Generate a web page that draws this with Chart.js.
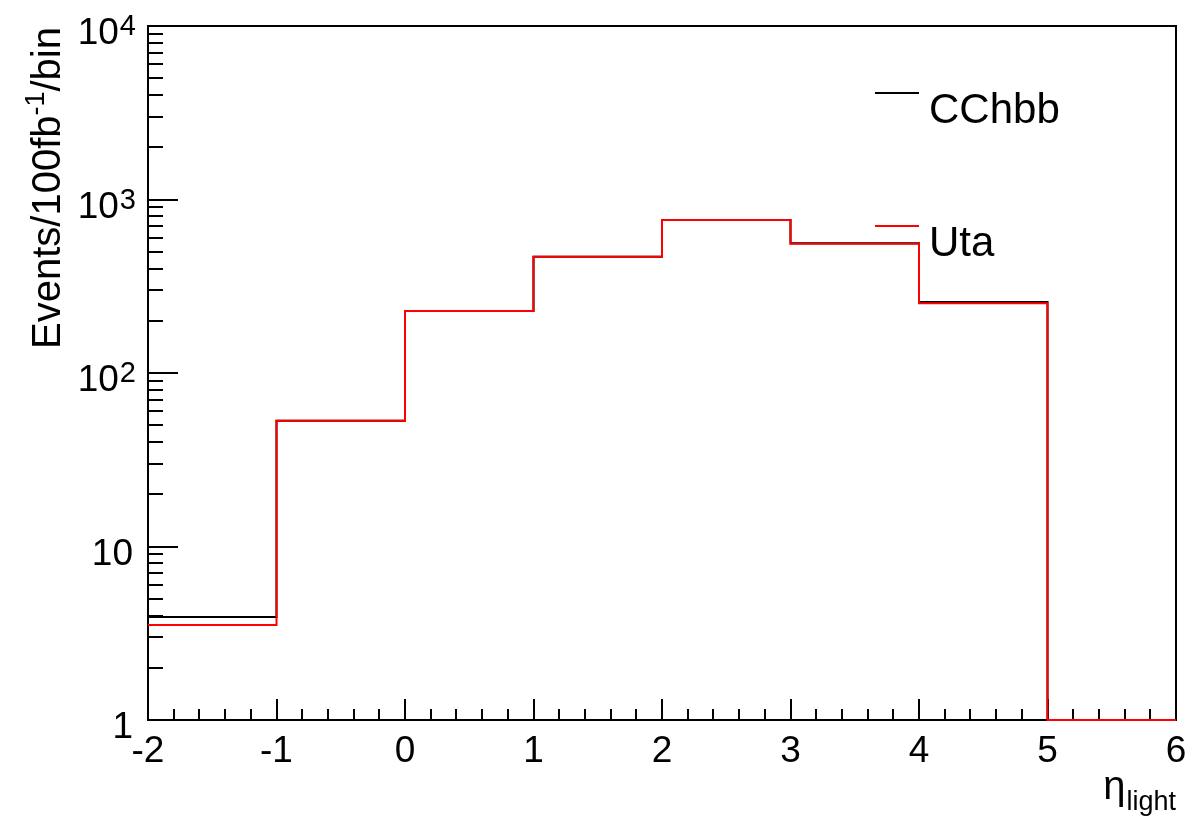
<!DOCTYPE html>
<html>
<head>
<meta charset="utf-8">
<script src="https://cdn.jsdelivr.net/npm/chart.js@4.4.1/dist/chart.umd.min.js"></script>
<style>
  body { margin: 0; background: #fff; }
  canvas { display: block; }
</style>
</head>
<body>
<canvas id="histChart" width="1192" height="823"></canvas>
<script>
// bin edges in eta_light, and events per bin for each sample
const binEdges = [-2, -1, 0, 1, 2, 3, 4, 5, 6];
const cchbbValues = [3.92, 53.1, 228, 468, 762, 560, 257, 0];
const utaValues = [3.53, 53.1, 228, 468, 762, 556, 252, 0];

const seriesNames = ['CChbb', 'Uta'];
const seriesColors = ['#000000', '#ff0000'];

const xTickValues = [-2, -1, 0, 1, 2, 3, 4, 5, 6];
const yTickValues = [1, 10, 100, 1000, 10000];
const yTickBase = ['1', '10', '10', '10', '10'];
const yTickExp = ['', '', '2', '3', '4'];

const yMin = 1, yMax = 10000;
const FONT = '"Liberation Sans", Arial, Helvetica, sans-serif';

// step outline: one point per bin low edge, plus the last upper edge
function toSteps(values) {
  const pts = values.map((v, i) => ({ x: binEdges[i], y: Math.max(v, yMin) }));
  pts.push({ x: binEdges[binEdges.length - 1], y: Math.max(values[values.length - 1], yMin) });
  return pts;
}

// ROOT-like frame with inward ticks
const frameAxes = {
  id: 'frameAxes',
  beforeDatasetsDraw(chart) {
    const { ctx, chartArea: a, scales } = chart;
    const xs = scales.x, ys = scales.y;
    ctx.save();
    ctx.strokeStyle = '#000';
    ctx.lineWidth = 2;
    ctx.strokeRect(a.left, a.top, a.right - a.left, a.bottom - a.top);

    ctx.beginPath();
    // x ticks: major every 1, minor every 0.2
    for (let i = 0; i <= 40; i++) {
      const v = xs.min + i * 0.2;
      const px = Math.round(xs.getPixelForValue(v));
      const len = (i % 5 === 0) ? 21 : 11;
      ctx.moveTo(px, a.bottom);
      ctx.lineTo(px, a.bottom - len);
    }
    // y ticks: decades + 2..9 minors
    for (let d = 0; d < 4; d++) {
      for (let k = 1; k <= 9; k++) {
        const v = k * Math.pow(10, d);
        const py = Math.round(ys.getPixelForValue(v));
        const len = k === 1 ? 30 : 15;
        ctx.moveTo(a.left, py);
        ctx.lineTo(a.left + len, py);
      }
    }
    ctx.lineWidth = 2;
    ctx.stroke();
    ctx.restore();
  },
  afterDraw(chart) {
    const { ctx, chartArea: a, scales } = chart;
    const xs = scales.x, ys = scales.y;
    ctx.save();
    ctx.fillStyle = '#000';

    // x tick labels
    ctx.font = '37px ' + FONT;
    ctx.textAlign = 'center';
    ctx.textBaseline = 'alphabetic';
    xTickValues.forEach(v => {
      ctx.fillText(String(v), xs.getPixelForValue(v), a.bottom + 42);
    });

    // y tick labels with superscripts
    ctx.textAlign = 'left';
    yTickValues.forEach((v, i) => {
      const py = ys.getPixelForValue(v);
      ctx.font = '37px ' + FONT;
      const wb = ctx.measureText(yTickBase[i]).width;
      ctx.font = '29px ' + FONT;
      const we = yTickExp[i] ? ctx.measureText(yTickExp[i]).width : 0;
      const right = yTickExp[i] ? 135 : 133;
      const x0 = right - wb - we;
      ctx.font = '37px ' + FONT;
      ctx.fillText(yTickBase[i], x0, py + 18);
      if (yTickExp[i]) {
        ctx.font = '29px ' + FONT;
        ctx.fillText(yTickExp[i], x0 + wb + 1, py + 9);
      }
    });

    // y axis title, rotated, aligned to top of axis
    ctx.save();
    ctx.translate(60, a.top + 1);
    ctx.rotate(-Math.PI / 2);
    const p1 = 'Events/100fb', sup = '-1', p2 = '/bin';
    ctx.font = '40px ' + FONT;
    const w1 = ctx.measureText(p1).width, w2 = ctx.measureText(p2).width;
    ctx.font = '27px ' + FONT;
    const ws = ctx.measureText(sup).width;
    const x = -(w1 + ws + w2);
    ctx.textAlign = 'left';
    ctx.font = '40px ' + FONT;
    ctx.fillText(p1, x, 0);
    ctx.font = '27px ' + FONT;
    ctx.fillText(sup, x + w1, -16);
    ctx.font = '40px ' + FONT;
    ctx.fillText(p2, x + w1 + ws, 0);
    ctx.restore();

    // x axis title: eta_light
    ctx.font = '27px ' + FONT;
    const wl = ctx.measureText('light').width;
    ctx.textAlign = 'left';
    ctx.fillText('light', a.right - wl, 810);
    ctx.font = '40px ' + FONT;
    const we = ctx.measureText('\u03b7').width;
    ctx.fillText('\u03b7', a.right - wl - we - 1, 799);

    // legend
    const legendY = [93, 226];
    chart.data.datasets.forEach((ds, i) => {
      ctx.strokeStyle = ds.borderColor;
      ctx.lineWidth = 2;
      ctx.beginPath();
      ctx.moveTo(875, legendY[i]);
      ctx.lineTo(919, legendY[i]);
      ctx.stroke();
      ctx.font = '42px ' + FONT;
      ctx.fillStyle = '#000';
      ctx.fillText(ds.label, 929, legendY[i] + 30);
    });
    ctx.restore();
  }
};

const datasets = [cchbbValues, utaValues].map((vals, i) => ({
  label: seriesNames[i],
  data: toSteps(vals),
  borderColor: seriesColors[i],
  borderWidth: 2,
  pointRadius: 0,
  fill: false,
  stepped: 'before',
  clip: 4,
  order: 2 - i
}));

new Chart(document.getElementById('histChart').getContext('2d'), {
  type: 'line',
  data: { datasets },
  options: {
    responsive: false,
    animation: false,
    layout: { padding: { left: 148, top: 26, right: 16, bottom: 103 } },
    plugins: {
      legend: { display: false },
      tooltip: { enabled: false }
    },
    scales: {
      x: { type: 'linear', min: -2, max: 6, display: false },
      y: { type: 'logarithmic', min: yMin, max: yMax, display: false }
    }
  },
  plugins: [frameAxes]
});
</script>
</body>
</html>
